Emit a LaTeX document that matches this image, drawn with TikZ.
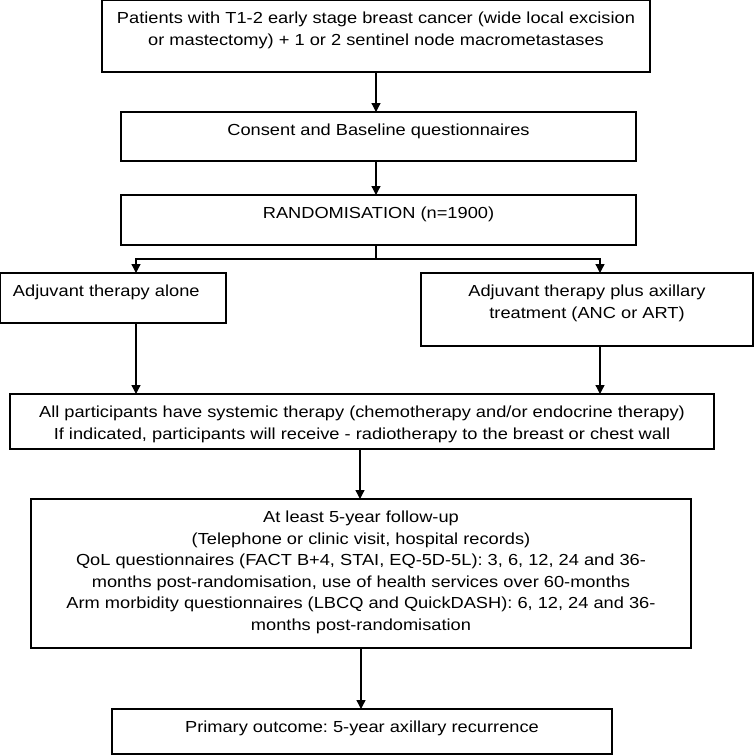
\documentclass[tikz,border=0pt]{standalone}
\usepackage{fontspec}
\setmainfont{Liberation Sans}[FakeStretch=1.14]
\frenchspacing
\usetikzlibrary{arrows.meta}
\tikzstyle{box} = [draw, line width=1.4pt, inner xsep=0pt, inner ysep=8.5pt, outer sep=0pt, anchor=north west, font=\fontsize{16}{21.5}\selectfont]
\tikzstyle{line} = [draw, line width=1.3pt]
\tikzstyle{arrow} = [line, -{Triangle[length=9pt, width=9pt]}]
\newcommand{\boxtxt}[4][\centering]{\parbox[c][#3][t]{#2}{#1\strut #4}}

\begin{document}
\begin{tikzpicture}[x=1pt, y=-1pt]
			\useasboundingbox (0, 0) rectangle (754, 755);
			\node [box] (patients) at (102, 0) {\boxtxt{548pt}{55pt}{Patients with T1-2 early stage breast cancer (wide local excision\\or mastectomy) + 1 or 2 sentinel node macrometastases}};
			\node [box] (consent) at (121, 112) {\boxtxt{515pt}{32pt}{Consent and Baseline questionnaires}};
			\node [box] (random) at (121, 195) {\boxtxt{515pt}{33pt}{RANDOMISATION (n=1900)}};
			\node [box] (alone) at (0, 273) {\boxtxt[\raggedright\hspace*{13pt}]{226pt}{33pt}{Adjuvant therapy alone}};
			\node [box] (plus) at (421, 273) {\boxtxt{332pt}{56pt}{Adjuvant therapy plus axillary\\treatment (ANC or ART)}};
			\node [box] (systemic) at (10, 394) {\boxtxt{704pt}{38pt}{All participants have systemic therapy (chemotherapy and/or endocrine therapy)\\If indicated, participants will receive - radiotherapy to the breast or chest wall}};
			\node [box] (followup) at (31, 499) {\boxtxt{660pt}{132pt}{At least 5-year follow-up\\(Telephone or clinic visit, hospital records)\\QoL questionnaires (FACT B+4, STAI, EQ-5D-5L): 3, 6, 12, 24 and 36-\\months post-randomisation, use of health services over 60-months\\Arm morbidity questionnaires (LBCQ and QuickDASH): 6, 12, 24 and 36-\\months post-randomisation}};
			\node [box] (outcome) at (112, 709) {\boxtxt{500pt}{28pt}{Primary outcome: 5-year axillary recurrence}};
			\coordinate (split) at (376, 259);
			
			\path [arrow] (patients.south) -- (patients.south |- consent.north);
			\path [arrow] (split |- consent.south) -- (split |- random.north);
			\path [line] (split |- random.south) -- (split);
			\path [arrow] (split) -| ([xshift=23pt]alone.north);
			\path [arrow] (split) -| ([xshift=13pt]plus.north);
			\path [arrow] ([xshift=23pt]alone.south) -- ([xshift=23pt]alone.south |- systemic.north);
			\path [arrow] ([xshift=13pt]plus.south) -- ([xshift=13pt]plus.south |- systemic.north);
			\path [arrow] ([xshift=-2pt]systemic.south) -- ([xshift=-2pt]systemic.south |- followup.north);
			\path [arrow] (followup.south) -- (followup.south |- outcome.north);
		\end{tikzpicture}
\end{document}
